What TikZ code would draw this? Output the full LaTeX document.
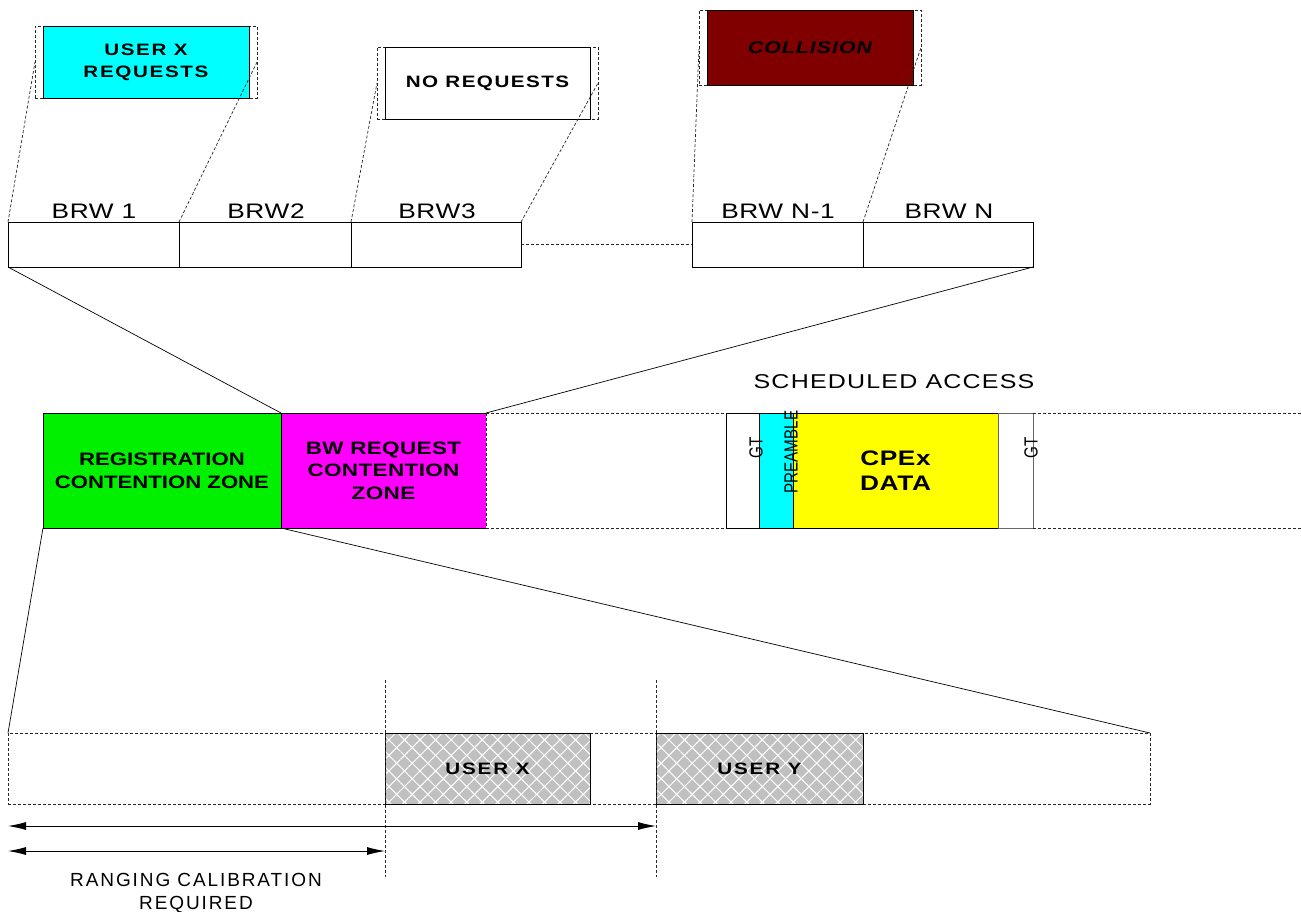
\documentclass[tikz,border=0pt]{standalone}
\usepackage{fontspec}
\setmainfont{Liberation Sans}
\usetikzlibrary{arrows.meta,patterns.meta}
\newcommand\lsp[2]{\addfontfeature{LetterSpace=#1,FakeStretch=#2}}
\definecolor{cyanc}{HTML}{00FFFF}
\definecolor{greenc}{HTML}{00F000}
\definecolor{magc}{HTML}{FF00FF}
\definecolor{yelc}{HTML}{FFFF00}
\definecolor{colc}{HTML}{800000}
\definecolor{hatchc}{HTML}{C0C0C0}
\begin{document}
\begin{tikzpicture}[x=1pt,y=-1pt,
  box/.style={draw=black,line width=0.8pt,inner sep=0pt,outer sep=0pt,anchor=north west,align=center},
  dbox/.style={draw=black!85,line width=0.7pt,dash pattern=on 3pt off 2pt,inner sep=0pt,outer sep=0pt,anchor=north west},
  line/.style={draw=black,line width=0.7pt},
  dline/.style={draw=black!85,line width=0.7pt,dash pattern=on 3pt off 2pt},
  arr/.style={draw=black,line width=0.9pt,{Latex[length=18pt,width=8pt]}-{Latex[length=18pt,width=8pt]}},
  lbl/.style={inner sep=0pt,font=\fontsize{21}{25}\selectfont\lsp{3}{1.25}},
  rot/.style={inner sep=0pt,rotate=90,font=\fontsize{19}{22}\selectfont\lsp{0}{0.8}},
  hatch/.style={fill=hatchc,
    postaction={pattern={Lines[angle=45,distance=11pt,line width=1pt]},pattern color=white},
    postaction={pattern={Lines[angle=-45,distance=11pt,line width=1pt]},pattern color=white},
    postaction={draw=black,line width=0.8pt}}
]
\useasboundingbox (0,0) rectangle (1301,911);

% top call-out boxes
\node[dbox,minimum width=222pt,minimum height=72pt] (uxo) at (35,26) {};
\node[box,fill=cyanc,minimum width=206pt,minimum height=72pt,
  font=\fontsize{16.5}{22}\selectfont\bfseries\lsp{10}{1.25}] (ux) at (43,26) {USER X\\REQUESTS};
\node[dbox,minimum width=221pt,minimum height=72pt] (nro) at (377,47) {};
\node[box,fill=white,minimum width=205pt,minimum height=72pt,
  font=\fontsize{16.5}{22}\selectfont\bfseries\lsp{9}{1.25}] (nr) at (385,47) {NO REQUESTS};
\node[dbox,minimum width=222pt,minimum height=75pt] (colo) at (699,10) {};
\node[box,fill=colc,minimum width=206pt,minimum height=75pt,
  font=\fontsize{17}{22}\selectfont\bfseries\itshape\lsp{6}{1.25}] (col) at (707,10) {COLLISION};

% BRW row
\node[box,minimum width=171pt,minimum height=45pt] (b1) at (8,222) {};
\node[box,minimum width=172pt,minimum height=45pt] (b2) at (179,222) {};
\node[box,minimum width=170pt,minimum height=45pt] (b3) at (351,222) {};
\node[box,minimum width=171pt,minimum height=45pt] (bn1) at (692,222) {};
\node[box,minimum width=170pt,minimum height=45pt] (bn) at (863,222) {};
\node[lbl,anchor=base] (lb1) at (94,218) {BRW 1};
\node[lbl,anchor=base] (lb2) at (266,218) {BRW2};
\node[lbl,anchor=base] (lb3) at (437,218) {BRW3};
\node[lbl,anchor=base] (lbn1) at (778,218) {BRW N-1};
\node[lbl,anchor=base] (lbn) at (949,218) {BRW N};

% middle row
\node[box,fill=greenc,minimum width=238pt,minimum height=115pt,
  font=\fontsize{18}{23}\selectfont\bfseries\lsp{0}{1.23}] (reg) at (43,413) {REGISTRATION\\CONTENTION ZONE};
\node[box,draw=none,fill=magc,minimum width=205pt,minimum height=115pt,
  font=\fontsize{18}{22.5}\selectfont\bfseries\lsp{2}{1.25}] (bwr) at (281,413) {BW REQUEST\\CONTENTION\\ZONE};
\draw[line,line width=0.8pt] (bwr.north east) -- (bwr.north west) -- (bwr.south west) -- (bwr.south east);
\draw[dline] (bwr.north east) -- (bwr.south east);

\node[lbl,anchor=base,font=\fontsize{20}{24}\selectfont\lsp{6}{1.25}] (sa) at (894,388) {SCHEDULED ACCESS};
\node[box,fill=white,minimum width=33pt,minimum height=115pt] (gt1) at (726,413) {};
\node[box,fill=cyanc,minimum width=34pt,minimum height=115pt] (pre) at (759,413) {};
\node[box,fill=yelc,minimum width=205pt,minimum height=115pt,
  font=\fontsize{21}{25}\selectfont\bfseries\lsp{3}{1.25}] (cpe) at (793,413) {CPEx\\DATA};
\node[box,draw=black!60,fill=white,minimum width=35pt,minimum height=115pt] (gt2) at (998,413) {};
\node[rot] (gtl) at (756,448) {GT};
\node[rot] (prel) at (791,452) {PREAMBLE};
\node[rot] (gtr) at (1031,448) {GT};
\coordinate (er1) at (1301,413);
\coordinate (er2) at (1301,528);
\draw[dline] (bwr.north east) -- (gt1.north west);
\draw[dline] (bwr.south east) -- (gt1.south west);
\draw[dline] (gt2.north east) -- (er1);
\draw[dline] (gt2.south east) -- (er2);

% bottom row
\node[dbox,minimum width=1142pt,minimum height=71pt] (brow) at (8,733) {};
\node[box,draw=none,hatch,minimum width=205pt,minimum height=71pt,
  font=\fontsize{16.5}{20}\selectfont\bfseries\lsp{11}{1.25}] (usx) at (385,733) {USER X};
\node[box,draw=none,hatch,minimum width=207pt,minimum height=71pt,
  font=\fontsize{16.5}{20}\selectfont\bfseries\lsp{11}{1.25}] (usy) at (656,733) {USER Y};

\coordinate (v1t) at (385,680);
\coordinate (v1b) at (385,877);
\coordinate (v2t) at (656,680);
\coordinate (v2b) at (656,877);
\draw[dline] (v1t) -- (v1b);
\draw[dline] (v2t) -- (v2b);

\coordinate (a1l) at (8,826);
\coordinate (a1r) at (656,826);
\coordinate (a2l) at (8,851);
\coordinate (a2r) at (385,851);
\draw[arr] (a1l) -- (a1r);
\draw[arr] (a2l) -- (a2r);
\node[inner sep=0pt,align=center,font=\fontsize{19}{23}\selectfont\lsp{10}{1}] (rcr) at (196,893) {RANGING CALIBRATION\\REQUIRED};

% connectors
\draw[dline] (b1.north west) -- (uxo.west);
\draw[dline] (b2.north west) -- (uxo.east);
\draw[dline] (b3.north west) -- (nro.west);
\draw[dline] (b3.north east) -- (nro.east);
\draw[dline] (bn1.north west) -- (colo.west);
\draw[dline] (bn.north west) -- (colo.east);
\draw[dline] (b3.east) -- (bn1.west);
\draw[line] (b1.south west) -- (reg.north east);
\draw[line] (bn.south east) -- (bwr.north east);
\draw[line] (reg.south west) -- (brow.north west);
\draw[line] (reg.south east) -- (brow.north east);
\end{tikzpicture}
\end{document}
